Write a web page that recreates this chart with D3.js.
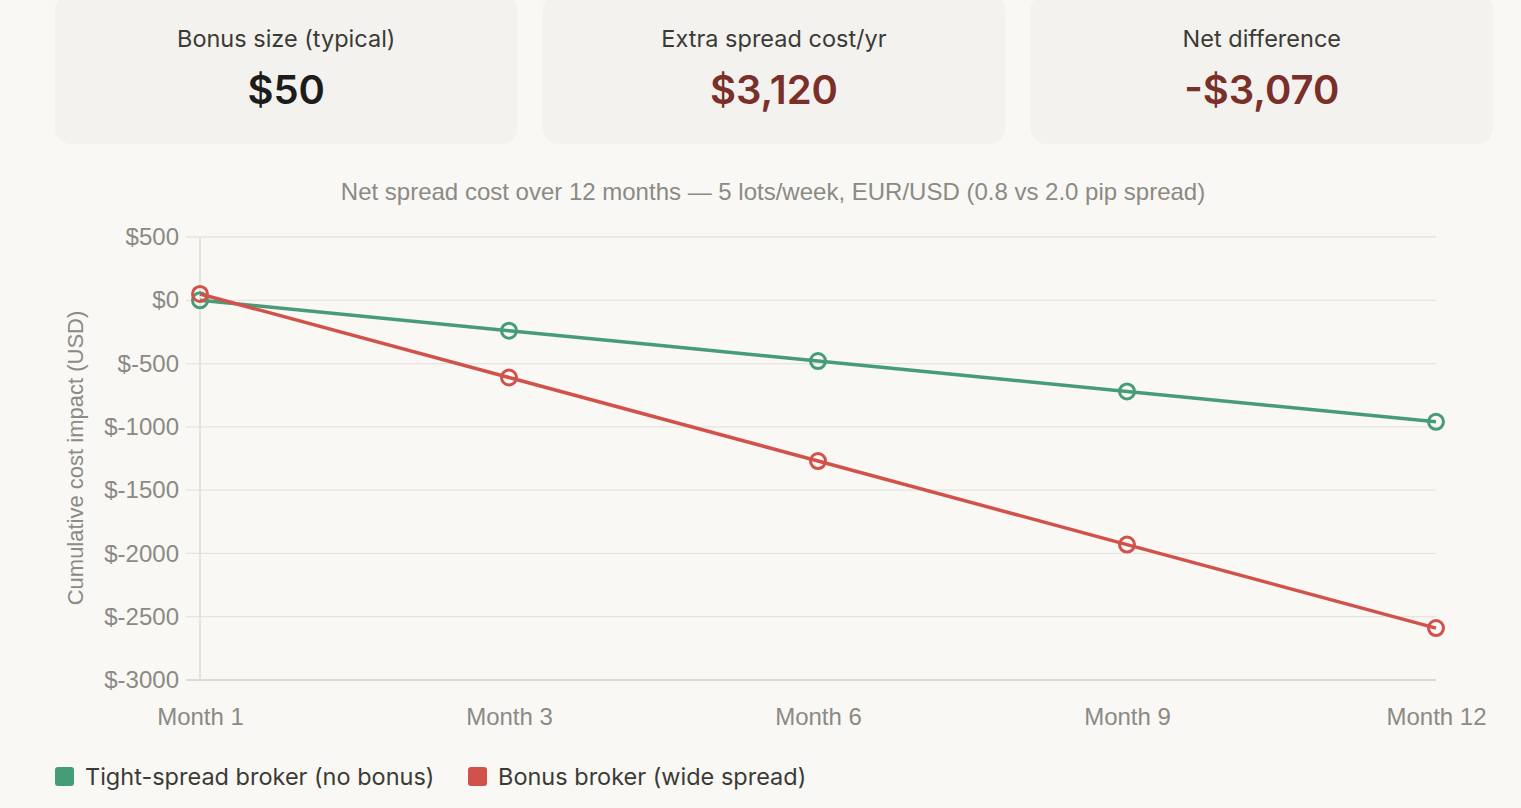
<!DOCTYPE html>
<html>
<head>
<meta charset="utf-8">
<script src="https://cdn.jsdelivr.net/npm/d3@7"></script>
<style>
  html, body { margin: 0; padding: 0; background: #f9f8f4; }
  svg { display: block; }
</style>
</head>
<body>
<div id="chart"></div>
<script>
// Summary cards
var cardLabels = ['Bonus size (typical)', 'Extra spread cost/yr', 'Net difference'];
var cardValues = ['$50', '$3,120', '-$3,070'];
var cardColors = ['#1c1c1a', '#7a2f29', '#7a2f29'];

// Chart data
var months = ['Month 1', 'Month 3', 'Month 6', 'Month 9', 'Month 12'];
var tightSpread = [0, -240, -480, -720, -960];
var bonusBroker = [50, -610, -1270, -1930, -2590];
var yTicks = [500, 0, -500, -1000, -1500, -2000, -2500, -3000];
var seriesNames = ['Tight-spread broker (no bonus)', 'Bonus broker (wide spread)'];
var seriesColors = ['#479c78', '#d1524b'];

var width = 1521, height = 808;
var axisFont = '"Liberation Sans", Arial, sans-serif';
var uiFont = 'Inter, "Open Sans", sans-serif';

var svg = d3.select('#chart').append('svg')
    .attr('width', width)
    .attr('height', height);

// cards
var cardX = d3.scaleBand().domain(d3.range(3)).range([55, 1493]).paddingInner(0.052);
var cards = svg.append('g').selectAll('g')
    .data(cardLabels)
    .join('g')
    .attr('transform', function (d, i) { return 'translate(' + cardX(i) + ',0)'; });
cards.append('rect')
    .attr('y', -6)
    .attr('width', cardX.bandwidth())
    .attr('height', 150)
    .attr('rx', 16)
    .attr('fill', '#f3f2ee');
cards.append('text')
    .attr('x', cardX.bandwidth() / 2)
    .attr('y', 47)
    .attr('text-anchor', 'middle')
    .style('font-family', uiFont)
    .style('font-size', '23.5px')
    .style('fill', '#3b3b36')
    .text(function (d) { return d; });
cards.append('text')
    .attr('x', cardX.bandwidth() / 2)
    .attr('y', 104)
    .attr('text-anchor', 'middle')
    .style('font-family', uiFont)
    .style('font-size', '40px')
    .style('font-weight', '600')
    .style('fill', function (d, i) { return cardColors[i]; })
    .text(function (d, i) { return cardValues[i]; });

// chart title
svg.append('text')
    .attr('x', 773)
    .attr('y', 200)
    .attr('text-anchor', 'middle')
    .style('font-family', axisFont)
    .style('font-size', '24px')
    .style('fill', '#8b8a84')
    .text('Net spread cost over 12 months \u2014 5 lots/week, EUR/USD (0.8 vs 2.0 pip spread)');

var x = d3.scalePoint().domain(months).range([200, 1436]);
var y = d3.scaleLinear().domain([-3000, 500]).range([680, 237]);

// grid
svg.append('g').selectAll('line')
    .data(yTicks)
    .join('line')
    .attr('x1', 186)
    .attr('x2', 1436)
    .attr('y1', function (d) { return y(d); })
    .attr('y2', function (d) { return y(d); })
    .attr('stroke', function (d) { return d === -3000 ? '#d4d2cc' : '#e6e4df'; })
    .attr('stroke-width', function (d) { return d === -3000 ? 1.6 : 1.3; });

svg.append('line')
    .attr('x1', 200).attr('x2', 200)
    .attr('y1', 237).attr('y2', 680)
    .attr('stroke', '#dedcd6')
    .attr('stroke-width', 1.5);

// y axis labels
var yAxis = d3.axisLeft(y)
    .tickValues(yTicks)
    .tickSize(0)
    .tickPadding(0)
    .tickFormat(function (d) { return '$' + d; });
var gy = svg.append('g').attr('transform', 'translate(179,0)').call(yAxis);
gy.select('.domain').remove();
gy.selectAll('text')
    .style('font-family', axisFont)
    .style('font-size', '24px')
    .style('fill', '#8b8a84');

// x axis labels
var xAxis = d3.axisBottom(x).tickSize(0).tickPadding(0);
var gx = svg.append('g').attr('transform', 'translate(0,708)').call(xAxis);
gx.select('.domain').remove();
gx.selectAll('text')
    .style('font-family', axisFont)
    .style('font-size', '24px')
    .style('fill', '#8b8a84');

// y axis title
svg.append('text')
    .attr('transform', 'translate(83,458) rotate(-90)')
    .attr('text-anchor', 'middle')
    .style('font-family', axisFont)
    .style('font-size', '22px')
    .style('fill', '#8b8a84')
    .text('Cumulative cost impact (USD)');

// lines
var series = [tightSpread, bonusBroker];
var line = d3.line()
    .x(function (d, i) { return x(months[i]); })
    .y(function (d) { return y(d); })
    .curve(d3.curveMonotoneX);

var gs = svg.append('g').selectAll('g')
    .data(series)
    .join('g');
gs.append('path')
    .attr('d', function (d) { return line(d); })
    .attr('fill', 'none')
    .attr('stroke', function (d, i) { return seriesColors[i]; })
    .attr('stroke-width', 3.5);
gs.selectAll('circle')
    .data(function (d, i) { return d.map(function (v, j) { return { v: v, j: j, s: i }; }); })
    .join('circle')
    .attr('cx', function (d) { return x(months[d.j]); })
    .attr('cy', function (d) { return y(d.v); })
    .attr('r', 7.5)
    .attr('fill', 'none')
    .attr('stroke', function (d) { return seriesColors[d.s]; })
    .attr('stroke-width', 3);

// legend
var legendX = [55, 468];
var lg = svg.append('g').selectAll('g')
    .data(seriesNames)
    .join('g')
    .attr('transform', function (d, i) { return 'translate(' + legendX[i] + ',767)'; });
lg.append('rect')
    .attr('width', 19)
    .attr('height', 19)
    .attr('rx', 3)
    .attr('fill', function (d, i) { return seriesColors[i]; });
lg.append('text')
    .attr('x', 30)
    .attr('y', 18)
    .style('font-family', uiFont)
    .style('font-size', '23.5px')
    .style('fill', '#3b3b36')
    .text(function (d) { return d; });
</script>
</body>
</html>
